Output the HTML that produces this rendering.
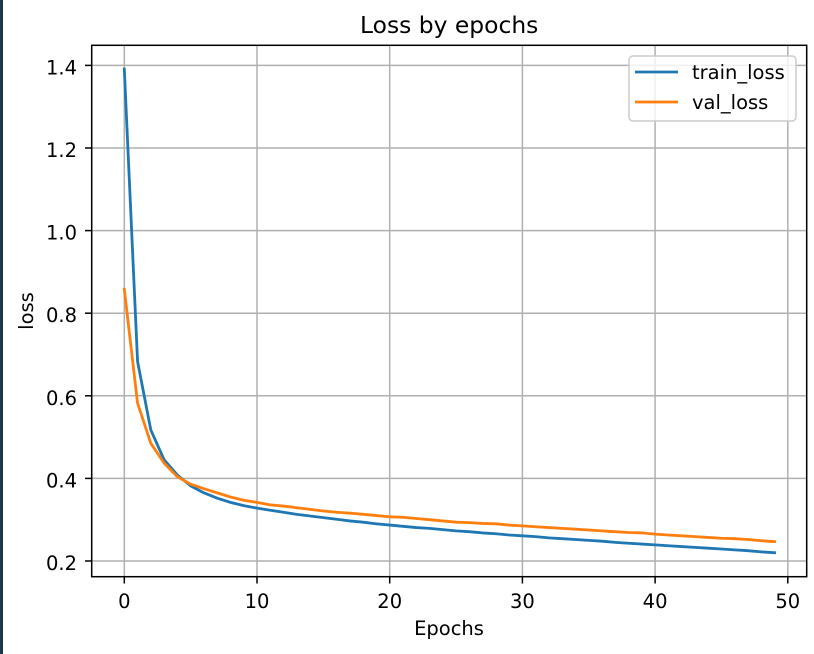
<!DOCTYPE html>
<html>
<head>
<meta charset="utf-8">
<style>
  html, body { margin: 0; padding: 0; background: #ffffff; }
  body { width: 814px; height: 654px; overflow: hidden; position: relative; }
  svg { display: block; }
  text { font-family: "DejaVu Sans", "Liberation Sans", sans-serif; fill: #000; }
</style>
</head>
<body>
<svg width="814" height="654" viewBox="0 0 814 654" xmlns="http://www.w3.org/2000/svg">
  <rect x="0" y="0" width="814" height="654" fill="#ffffff"/>
  <!-- left dark strip -->
  <rect x="0" y="0" width="3" height="654" fill="#1c3650"/>

  <!-- grid lines -->
  <g stroke="#b0b0b0" stroke-width="1.5">
    <line x1="124.3" y1="45.3" x2="124.3" y2="576.7"/>
    <line x1="257" y1="45.3" x2="257" y2="576.7"/>
    <line x1="389.7" y1="45.3" x2="389.7" y2="576.7"/>
    <line x1="522.4" y1="45.3" x2="522.4" y2="576.7"/>
    <line x1="655.1" y1="45.3" x2="655.1" y2="576.7"/>
    <line x1="787.8" y1="45.3" x2="787.8" y2="576.7"/>

    <line x1="91.7" y1="561" x2="806.7" y2="561"/>
    <line x1="91.7" y1="478.4" x2="806.7" y2="478.4"/>
    <line x1="91.7" y1="395.8" x2="806.7" y2="395.8"/>
    <line x1="91.7" y1="313.2" x2="806.7" y2="313.2"/>
    <line x1="91.7" y1="230.6" x2="806.7" y2="230.6"/>
    <line x1="91.7" y1="148" x2="806.7" y2="148"/>
    <line x1="91.7" y1="65.4" x2="806.7" y2="65.4"/>
  </g>

  <!-- data series -->
  <g transform="translate(124.3,643.6) scale(13.27,-413)">
    <polyline fill="none" stroke="#1f77b4" stroke-width="2.8" vector-effect="non-scaling-stroke" stroke-linejoin="round" stroke-linecap="square"
      points="0,1.391 1,0.683 2,0.517 3,0.445 4,0.408 5,0.382 6,0.365 7,0.352 8,0.342 9,0.334 10,0.328 11,0.323 12,0.318 13,0.313 14,0.309 15,0.305 16,0.301 17,0.297 18,0.294 19,0.290 20,0.287 21,0.284 22,0.281 23,0.279 24,0.276 25,0.273 26,0.271 27,0.268 28,0.266 29,0.263 30,0.261 31,0.259 32,0.256 33,0.254 34,0.252 35,0.250 36,0.248 37,0.245 38,0.243 39,0.241 40,0.239 41,0.237 42,0.235 43,0.233 44,0.231 45,0.229 46,0.227 47,0.225 48,0.222 49,0.220"/>
    <polyline fill="none" stroke="#ff7f0e" stroke-width="2.8" vector-effect="non-scaling-stroke" stroke-linejoin="round" stroke-linecap="square"
      points="0,0.858 1,0.582 2,0.485 3,0.437 4,0.404 5,0.386 6,0.375 7,0.365 8,0.355 9,0.347 10,0.342 11,0.336 12,0.333 13,0.329 14,0.325 15,0.321 16,0.318 17,0.316 18,0.313 19,0.310 20,0.307 21,0.306 22,0.303 23,0.300 24,0.297 25,0.294 26,0.293 27,0.291 28,0.290 29,0.287 30,0.285 31,0.283 32,0.281 33,0.279 34,0.277 35,0.275 36,0.273 37,0.271 38,0.269 39,0.268 40,0.265 41,0.263 42,0.261 43,0.259 44,0.257 45,0.255 46,0.254 47,0.252 48,0.249 49,0.247"/>
  </g>

  <!-- spines -->
  <rect x="91.7" y="45.3" width="715" height="531.4" fill="none" stroke="#000" stroke-width="1.5"/>

  <!-- ticks -->
  <g stroke="#000" stroke-width="1.5">
    <line x1="124.3" y1="576.7" x2="124.3" y2="583.5"/>
    <line x1="257" y1="576.7" x2="257" y2="583.5"/>
    <line x1="389.7" y1="576.7" x2="389.7" y2="583.5"/>
    <line x1="522.4" y1="576.7" x2="522.4" y2="583.5"/>
    <line x1="655.1" y1="576.7" x2="655.1" y2="583.5"/>
    <line x1="787.8" y1="576.7" x2="787.8" y2="583.5"/>

    <line x1="85" y1="561" x2="91.7" y2="561"/>
    <line x1="85" y1="478.4" x2="91.7" y2="478.4"/>
    <line x1="85" y1="395.8" x2="91.7" y2="395.8"/>
    <line x1="85" y1="313.2" x2="91.7" y2="313.2"/>
    <line x1="85" y1="230.6" x2="91.7" y2="230.6"/>
    <line x1="85" y1="148" x2="91.7" y2="148"/>
    <line x1="85" y1="65.4" x2="91.7" y2="65.4"/>
  </g>

  <!-- x tick labels -->
  <g font-size="19.5" text-anchor="middle">
    <text x="124.3" y="608">0</text>
    <text x="257" y="608">10</text>
    <text x="389.7" y="608">20</text>
    <text x="522.4" y="608">30</text>
    <text x="655.1" y="608">40</text>
    <text x="787.8" y="608">50</text>
  </g>

  <!-- y tick labels -->
  <g font-size="19.5" text-anchor="end">
    <text x="77" y="570">0.2</text>
    <text x="77" y="487.4">0.4</text>
    <text x="77" y="404.8">0.6</text>
    <text x="77" y="322.2">0.8</text>
    <text x="77" y="239.6">1.0</text>
    <text x="77" y="157">1.2</text>
    <text x="77" y="74.4">1.4</text>
  </g>

  <!-- axis labels & title -->
  <text x="449" y="635" font-size="19.5" text-anchor="middle">Epochs</text>
  <text transform="translate(33,311) rotate(-90)" font-size="19.5" text-anchor="middle">loss</text>
  <text x="449.2" y="33" font-size="23.4" text-anchor="middle">Loss by epochs</text>

  <!-- legend -->
  <rect x="629" y="56" width="167" height="65" rx="4" ry="4" fill="#ffffff" fill-opacity="0.8" stroke="#cccccc" stroke-width="1.5"/>
  <line x1="635" y1="72" x2="678" y2="72" stroke="#1f77b4" stroke-width="2.8"/>
  <line x1="635" y1="102" x2="678" y2="102" stroke="#ff7f0e" stroke-width="2.8"/>
  <text x="692" y="79" font-size="19.5">train_loss</text>
  <text x="692" y="109" font-size="19.5">val_loss</text>
</svg>
</body>
</html>
